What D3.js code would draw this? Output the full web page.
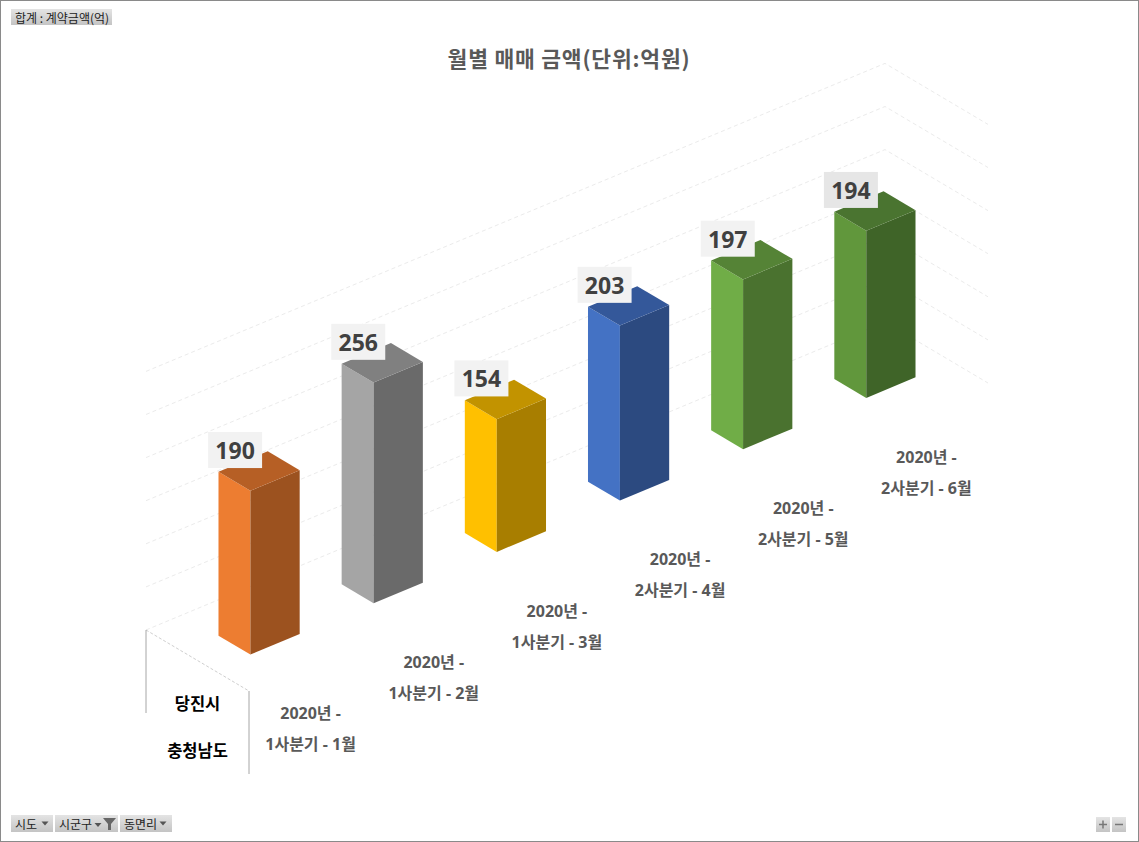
<!DOCTYPE html>
<html><head><meta charset="utf-8">
<script src="https://cdn.jsdelivr.net/npm/d3@7"></script>
<style>body{margin:0;background:#fff}svg{display:block}</style>
</head><body>
<svg id="c" width="1139" height="842"></svg>
<script>
// ---- data ----
const categories = ["2020년 - 1사분기 - 1월","2020년 - 1사분기 - 2월","2020년 - 1사분기 - 3월","2020년 - 2사분기 - 4월","2020년 - 2사분기 - 5월","2020년 - 2사분기 - 6월"];
const labelLine1 = ["2020년 -","2020년 -","2020년 -","2020년 -","2020년 -","2020년 -"];
const labelLine2 = ["1사분기 - 1월","1사분기 - 2월","1사분기 - 3월","2사분기 - 4월","2사분기 - 5월","2사분기 - 6월"];
const values = [190, 256, 154, 203, 197, 194];
const frontColors = ["#ED7D31","#A5A5A5","#FFC000","#4472C4","#70AD47","#61973C"];
const sideColors  = ["#9C521F","#6A6A6A","#A87E00","#2C4A80","#4A722F","#3F6428"];
const topColors   = ["#B65F25","#808080","#C29300","#34589A","#558336","#4A7430"];
const labelBoxColors = ["#F2F2F2","#F2F2F2","#F2F2F2","#F2F2F2","#F2F2F2","#E6E6E6"];
const valueTicks = [0,50,100,150,200,250,300];
const rowLabels = ["당진시","충청남도"];
const title = "월별 매매 금액(단위:억원)";

const svg = d3.select("#c");
svg.append("rect").attr("x",0.5).attr("y",0.5).attr("width",1138).attr("height",841)
  .attr("fill","#fff").attr("stroke","#8a8a8a");

// ---- 3D projection ----
const O = [146,630], U = [739,-308], D = [103,61];
const x = d3.scaleBand().domain(categories).range([0,1]).paddingInner(0.6).paddingOuter(0.3);
const h = d3.scaleLinear().domain([0,300]).range([0,258.6]);
const b0 = 0.345, b1 = 0.655;
function P(a,b,v){ return [O[0]+U[0]*a+D[0]*b, O[1]+U[1]*a+D[1]*b - h(v)]; }
const poly = pts => "M" + pts.map(p=>p.join(",")).join("L") + "Z";

// gridlines back wall & side wall
const g = svg.append("g");
valueTicks.forEach(t=>{
  const p0=P(0,0,t), p1=P(1,0,t), p2=P(1,1,t);
  g.append("path").attr("d",`M${p0}L${p1}L${p2}`).attr("fill","none")
   .attr("stroke","#ebebeb").attr("stroke-width",1).attr("stroke-dasharray","4,3");
});
// floor left edge
{ const p0=P(0,0,0), p1=P(0,1,0);
  svg.append("line").attr("x1",p0[0]).attr("y1",p0[1]).attr("x2",p1[0]).attr("y2",p1[1])
   .attr("stroke","#cfcfcf").attr("stroke-dasharray","3,2"); }

// bars
const bars = svg.append("g");
categories.forEach((c,i)=>{
  const a0 = x(c), a1 = x(c)+x.bandwidth(), v = values[i];
  const BL0=P(a0,b0,0), FL0=P(a0,b1,0), FR0=P(a1,b1,0);
  const BL1=P(a0,b0,v), FL1=P(a0,b1,v), FR1=P(a1,b1,v), BR1=P(a1,b0,v);
  bars.append("path").attr("d",poly([BL0,FL0,FL1,BL1])).attr("fill",frontColors[i]);
  bars.append("path").attr("d",poly([FL0,FR0,FR1,FL1])).attr("fill",sideColors[i]);
  bars.append("path").attr("d",poly([BL1,FL1,FR1,BR1])).attr("fill",topColors[i]);
});

// data labels
categories.forEach((c,i)=>{
  const tc = P(x(c)+x.bandwidth()/2,0.5,values[i]);
  const cx = tc[0]-24, cy = tc[1]-21;
  svg.append("rect").attr("x",cx-27).attr("y",cy-18).attr("width",54).attr("height",36).attr("fill",labelBoxColors[i]);
  svg.append("text").attr("x",cx).attr("y",cy).attr("text-anchor","middle").attr("dominant-baseline","central")
    .attr("font-family","'Noto Sans','Open Sans',sans-serif").attr("font-weight","bold")
    .attr("font-size",23).attr("fill","#404040").text(values[i]);
});

// category labels
categories.forEach((c,i)=>{
  const p = P(x(c)+x.bandwidth()/2,1,0);
  const t = svg.append("text").attr("text-anchor","middle")
    .attr("font-family","'Noto Sans','Noto Sans CJK KR',sans-serif").attr("font-weight","bold")
    .attr("font-size",16).attr("fill","#595959");
  t.append("tspan").attr("x",p[0]).attr("y",p[1]+48).attr("dominant-baseline","central").text(labelLine1[i]);
  t.append("tspan").attr("x",p[0]).attr("y",p[1]+79).attr("dominant-baseline","central").text(labelLine2[i]);
});

// row label table
{ const p0=P(0,0,0), p1=P(0,1,0);
  svg.append("line").attr("x1",p0[0]).attr("y1",p0[1]).attr("x2",p0[0]).attr("y2",p0[1]+83).attr("stroke","#a6a6a6");
  svg.append("line").attr("x1",p1[0]).attr("y1",p1[1]).attr("x2",p1[0]).attr("y2",p1[1]+83).attr("stroke","#a6a6a6");
  rowLabels.forEach((r,k)=>{
    svg.append("text").attr("x",(p0[0]+p1[0])/2).attr("y",703+k*47).attr("text-anchor","middle")
      .attr("dominant-baseline","central").attr("font-family","'Noto Sans CJK KR',sans-serif")
      .attr("font-weight","bold").attr("font-size",16.5).attr("fill","#000").text(r);
  });
}

// title
svg.append("text").attr("x",569).attr("y",57).attr("text-anchor","middle").attr("dominant-baseline","central")
  .attr("font-family","'Noto Sans CJK KR',sans-serif").attr("font-weight","bold").attr("font-size",21.5)
  .attr("letter-spacing",0.8).attr("fill","#595959").text(title);

// pivot buttons
const defs = svg.append("defs");
const grad = defs.append("linearGradient").attr("id","btn").attr("x1",0).attr("y1",0).attr("x2",0).attr("y2",1);
grad.append("stop").attr("offset",0).attr("stop-color","#e4e4e4");
grad.append("stop").attr("offset",1).attr("stop-color","#c4c4c4");
function button(x0,y0,w,hh,label){
  svg.append("rect").attr("x",x0).attr("y",y0).attr("width",w).attr("height",hh).attr("fill","url(#btn)");
  if(label) svg.append("text").attr("x",x0+4).attr("y",y0+hh/2).attr("dominant-baseline","central")
    .attr("font-family","'Noto Sans CJK KR',sans-serif").attr("font-size",12).attr("fill","#222").text(label);
}
button(11,9,101,16,"합계 : 계약금액(억)");
button(11,815,42,17,"시도");
button(55,815,63,17,"시군구");
button(120,815,52,17,"동면리");
function tri(cx,cy){ svg.append("path").attr("d",`M${cx-3.5},${cy-2}L${cx+3.5},${cy-2}L${cx},${cy+2}Z`).attr("fill","#555"); }
tri(45,823.5); tri(98,825); tri(163,823.5);
svg.append("path").attr("d","M103,818L116,818L111,824L111,830L108,830L108,824Z").attr("fill","#666");
button(1096,817,14,15,null); button(1112,817,14,15,null);
svg.append("path").attr("d","M1099,824.5L1107,824.5M1103,820.5L1103,828.5").attr("stroke","#777").attr("stroke-width",1.5);
svg.append("path").attr("d","M1115,824.5L1123,824.5").attr("stroke","#777").attr("stroke-width",1.5);
</script>
</body></html>
